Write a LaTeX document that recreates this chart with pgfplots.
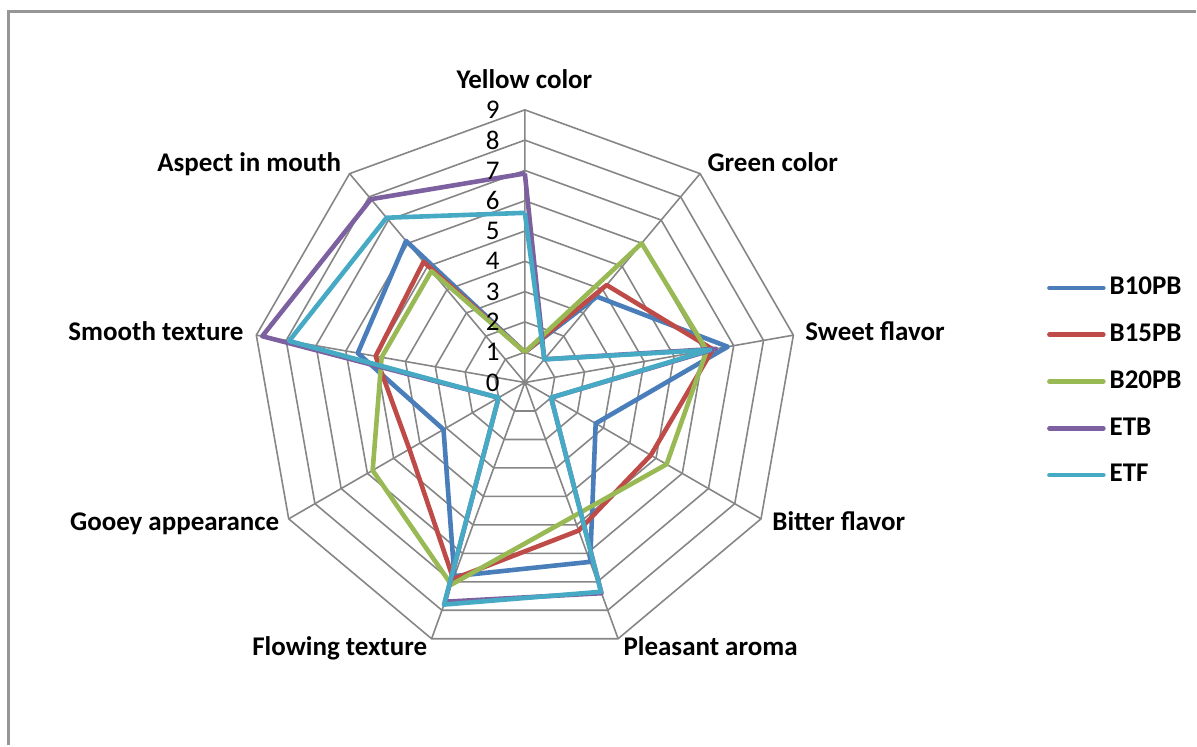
\documentclass[border=0pt]{standalone}
\usepackage{fontspec}
\setmainfont{Carlito}
\usepackage{pgfplots}
\pgfplotsset{compat=1.18}
\usepgfplotslibrary{polar}
\definecolor{gridc}{RGB}{134,134,134}
\definecolor{cB10}{RGB}{74,126,187}
\definecolor{cB15}{RGB}{190,75,72}
\definecolor{cB20}{RGB}{152,185,84}
\definecolor{cETB}{RGB}{125,96,160}
\definecolor{cETF}{RGB}{70,170,197}
\begin{document}
\fontsize{13.5}{16}\selectfont
\begin{tikzpicture}
\path (0pt,0pt) rectangle (598.5pt,373pt);
\draw[color={rgb,255:red,150;green,150;blue,150}, line width=1.5pt] (4.25pt,0pt) -- (4.25pt,367.25pt) -- (598.5pt,367.25pt);
\begin{polaraxis}[
  at={(262.75pt,181.5pt)}, anchor=center,
  scale only axis, width=273pt, height=273pt,
  ymin=0, ymax=9, hide axis, clip=false,
  legend style={at={(1.457,0.502)}, anchor=west, draw=none, fill=none,
    row sep=8.6pt, font=\fontsize{13.5}{16}\selectfont\bfseries, inner sep=0pt},
  legend cell align=left,
  legend image code/.code={\draw[#1, line cap=round] (0pt,0pt) -- (27pt,0pt);},
]
% grid
\addplot[gridc, line width=0.8pt, forget plot] coordinates {(90,9)(0,0)(50,9)(0,0)(10,9)(0,0)(330,9)(0,0)(290,9)(0,0)(250,9)(0,0)(210,9)(0,0)(170,9)(0,0)(130,9)};
\addplot[gridc, line width=0.8pt, forget plot] coordinates {(90,1)(50,1)(10,1)(330,1)(290,1)(250,1)(210,1)(170,1)(130,1)(90,1)};
\addplot[gridc, line width=0.8pt, forget plot] coordinates {(90,2)(50,2)(10,2)(330,2)(290,2)(250,2)(210,2)(170,2)(130,2)(90,2)};
\addplot[gridc, line width=0.8pt, forget plot] coordinates {(90,3)(50,3)(10,3)(330,3)(290,3)(250,3)(210,3)(170,3)(130,3)(90,3)};
\addplot[gridc, line width=0.8pt, forget plot] coordinates {(90,4)(50,4)(10,4)(330,4)(290,4)(250,4)(210,4)(170,4)(130,4)(90,4)};
\addplot[gridc, line width=0.8pt, forget plot] coordinates {(90,5)(50,5)(10,5)(330,5)(290,5)(250,5)(210,5)(170,5)(130,5)(90,5)};
\addplot[gridc, line width=0.8pt, forget plot] coordinates {(90,6)(50,6)(10,6)(330,6)(290,6)(250,6)(210,6)(170,6)(130,6)(90,6)};
\addplot[gridc, line width=0.8pt, forget plot] coordinates {(90,7)(50,7)(10,7)(330,7)(290,7)(250,7)(210,7)(170,7)(130,7)(90,7)};
\addplot[gridc, line width=0.8pt, forget plot] coordinates {(90,8)(50,8)(10,8)(330,8)(290,8)(250,8)(210,8)(170,8)(130,8)(90,8)};
\addplot[gridc, line width=0.8pt, forget plot] coordinates {(90,9)(50,9)(10,9)(330,9)(290,9)(250,9)(210,9)(170,9)(130,9)(90,9)};
% data: Yellow, Green, Sweet, Bitter, Pleasant, Flowing, Gooey, Smooth, Aspect
\addplot[cB10, line width=2.3pt, line join=round, no marks] coordinates {(90,1.0)(50,3.7)(10,6.8)(330,2.7)(290,6.3)(250,6.8)(210,3.1)(170,5.6)(130,6.1)(90,1.0)};
\addlegendentry{B10PB}
\addplot[cB15, line width=2.3pt, line join=round, no marks] coordinates {(90,1.0)(50,4.2)(10,6.3)(330,4.8)(290,5.2)(250,6.9)(210,4.4)(170,5.0)(130,5.2)(90,1.0)};
\addlegendentry{B15PB}
\addplot[cB20, line width=2.3pt, line join=round, no marks] coordinates {(90,1.0)(50,6.0)(10,6.1)(330,5.4)(290,4.7)(250,7.1)(210,5.8)(170,4.8)(130,4.8)(90,1.0)};
\addlegendentry{B20PB}
\addplot[cETB, line width=2.3pt, line join=round, no marks] coordinates {(90,6.9)(50,1.0)(10,6.4)(330,1.0)(290,7.4)(250,7.7)(210,1.0)(170,8.8)(130,7.9)(90,6.9)};
\addlegendentry{ETB}
\addplot[cETF, line width=2.3pt, line join=round, no marks] coordinates {(90,5.6)(50,1.0)(10,6.2)(330,1.0)(290,7.35)(250,7.8)(210,1.0)(170,7.9)(130,7.1)(90,5.6)};
\addlegendentry{ETF}
% radial tick labels
\foreach \k in {0,...,9}{
  \edef\temp{\noexpand\node[anchor=east, inner sep=0pt, xshift=-12.5pt] at (axis cs:90,\k) {\k};}
  \temp
}
\end{polaraxis}
\begin{scope}[x=0.5pt, y=-0.5pt, yshift=373pt, font=\fontsize{13.5}{16}\selectfont\bfseries]
\node[anchor=base, inner sep=0pt] at (525,89) {Yellow color};
\node[anchor=base west, inner sep=0pt] at (708,172) {Green color};
\node[anchor=base east, inner sep=0pt] at (342,172) {Aspect in mouth};
\node[anchor=base west, inner sep=0pt] at (806,341) {Sweet flavor};
\node[anchor=base east, inner sep=0pt] at (244,341) {Smooth texture};
\node[anchor=base west, inner sep=0pt] at (773,531) {Bitter flavor};
\node[anchor=base east, inner sep=0pt] at (280,531) {Gooey appearance};
\node[anchor=base west, inner sep=0pt] at (624,656) {Pleasant aroma};
\node[anchor=base east, inner sep=0pt] at (428,656) {Flowing texture};
\end{scope}
\end{tikzpicture}
\end{document}
